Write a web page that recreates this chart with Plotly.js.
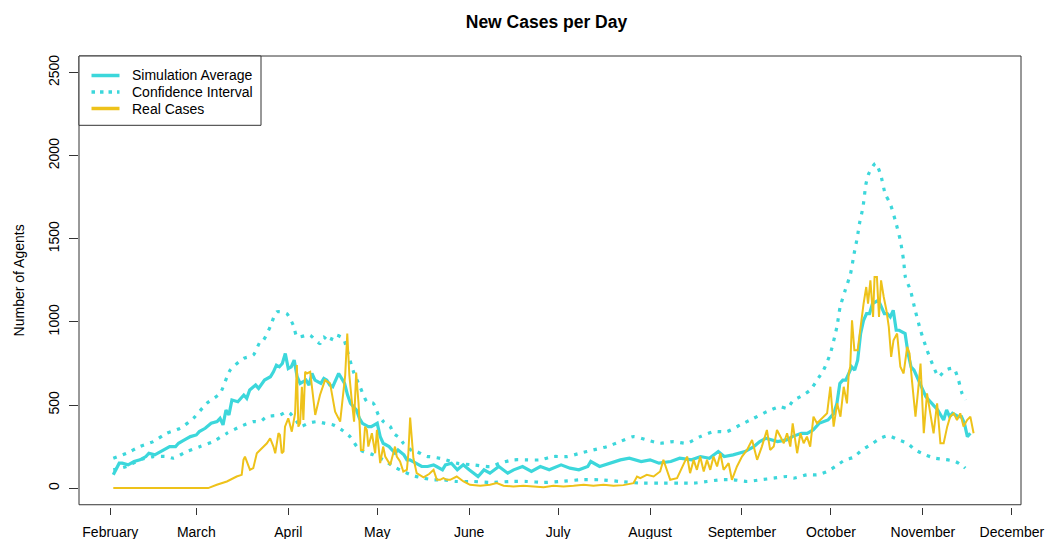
<!DOCTYPE html>
<html>
<head>
<meta charset="utf-8">
<script src="https://cdn.plot.ly/plotly-3.0.1.min.js"></script>
<style>html,body{margin:0;padding:0;background:#fff;}#chart{width:1047px;height:539px;}</style>
</head>
<body>
<div id="chart"></div>
<script>
// Day offsets are counted from 1 February 2020.
const startDate = '2020-02-01';

// Simulation average: [day, cases]
const simAverage = [[1,80],[3,150],[4,150],[6,140],[8,160],[10,170],[12,190],[13,210],[15,200],[17,220],[19,240],[20,250],[22,250],[23,270],[25,290],[27,310],[29,320],[30,340],[32,360],[34,390],[36,400],[37,420],[38,380],[39,470],[40,440],[41,530],[43,520],[45,560],[46,540],[47,590],[49,620],[50,600],[52,650],[54,670],[55,700],[56,740],[57,730],[58,750],[59,810],[60,720],[61,730],[62,770],[63,670],[64,630],[66,650],[67,620],[68,690],[69,650],[71,630],[72,660],[73,650],[74,620],[75,610],[77,690],[79,630],[80,560],[81,510],[83,470],[84,420],[85,390],[87,370],[88,370],[90,390],[91,310],[92,270],[94,250],[96,210],[97,230],[99,200],[100,170],[101,170],[103,150],[105,130],[107,130],[109,140],[110,130],[112,110],[113,140],[115,150],[117,110],[119,140],[121,110],[124,70],[126,110],[128,90],[131,130],[134,90],[136,110],[139,130],[142,100],[145,130],[148,110],[152,140],[155,120],[158,110],[161,130],[162,160],[165,130],[169,150],[172,170],[175,180],[179,160],[182,170],[185,150],[189,160],[192,180],[196,170],[199,190],[202,180],[205,220],[207,190],[210,200],[214,220],[217,250],[219,280],[221,300],[225,280],[228,290],[230,310],[233,330],[235,330],[237,350],[239,390],[242,410],[244,450],[245,510],[246,630],[247,650],[248,650],[250,730],[251,710],[252,770],[253,930],[254,1010],[255,1050],[256,1050],[257,1110],[259,1130],[260,1090],[261,1050],[262,1050],[263,1030],[264,1070],[265,950],[266,950],[268,930],[269,810],[270,730],[271,710],[273,630],[274,590],[275,550],[277,510],[278,490],[279,470],[281,410],[282,470],[283,430],[284,450],[286,430],[287,430],[288,390],[289,310],[290,330]];

// Confidence interval, upper bound: [day, cases]
const ciUpper = [[1,180],[5.5,210],[10,250],[14.5,280],[19,330],[23.5,360],[28,420],[32.5,510],[37,570],[40.4,710],[44.9,780],[48.2,800],[50.5,880],[51.6,890],[53.9,970],[56.1,1060],[59.5,1050],[61.7,980],[63,910],[66.3,920],[67.4,920],[70.7,870],[71.8,910],[74.1,880],[75.2,920],[76.4,920],[78.6,900],[79.7,840],[82,700],[84.2,610],[86.5,520],[88.7,510],[90.4,440],[92.1,400],[94.4,370],[95.5,330],[97.7,300],[98.8,270],[102.2,220],[103.3,220],[106.7,190],[107.8,190],[112.3,175],[116.8,150],[122.4,140],[128.1,130],[131.4,150],[135.9,170],[140.5,170],[144.9,170],[149.4,190],[154,190],[158.4,210],[162.9,230],[167.5,250],[171.9,280],[176.4,310],[180.9,290],[185.4,270],[189.9,280],[194.4,270],[198.9,310],[203.4,340],[207.9,340],[212.4,380],[216.9,420],[221.4,460],[225.9,490],[228.2,480],[230.4,530],[232.7,550],[236,590],[238.3,650],[240.5,710],[242.8,810],[245,970],[246.1,1090],[247.8,1190],[249.6,1290],[250.8,1410],[251.9,1510],[252.6,1590],[253.8,1690],[254.8,1830],[255.7,1890],[258,1955],[259.7,1890],[261.3,1770],[263,1710],[264.7,1610],[266.4,1490],[267.5,1370],[268.1,1270],[269.8,1190],[271.4,1070],[273.2,950],[275.4,830],[277.6,730],[279.3,670],[281.6,710],[284.4,720],[286,650],[287.2,570],[288.4,530]];

// Confidence interval, lower bound: [day, cases]
const ciLower = [[1,110],[5.5,130],[10,170],[14.5,190],[19,190],[21.2,180],[25.8,220],[30.3,250],[34.7,280],[39.3,330],[43.8,370],[48.2,400],[50.5,400],[52.8,430],[57.2,440],[59.5,460],[60.6,450],[62.9,400],[64,370],[66.8,390],[69.6,400],[72.4,390],[75.2,380],[78.1,350],[80.8,310],[83.1,250],[84.2,230],[85.3,220],[88.7,200],[92.1,170],[95.5,130],[98.8,100],[102.2,75],[105.6,60],[109,50],[112.3,50],[116.8,40],[122.4,40],[128.1,34],[134.8,40],[140.5,40],[146.1,34],[151.7,40],[158.4,50],[165.2,50],[171.9,40],[178.7,30],[185.4,30],[192.2,30],[196.7,30],[201.2,40],[205.7,50],[210.2,50],[214.7,40],[219.2,50],[223.7,60],[228.2,70],[230.4,60],[234.9,80],[238.3,80],[241.7,100],[244.5,130],[247.8,170],[250.6,185],[253.5,230],[256.3,260],[259.7,300],[262.4,315],[265.8,290],[268.7,270],[271.4,230],[274.8,200],[278.2,180],[281.6,172],[285,160],[287.7,130],[288.3,120]];

// Real reported cases: [day, cases]
const realCases = [[1,0],[10,0],[20,0],[28,0],[30.3,2],[33,0],[35.9,20],[39.3,40],[42.6,70],[44.3,80],[44.9,170],[45.4,190],[47.1,110],[48.2,120],[49.4,210],[50.5,230],[51.6,250],[52.8,270],[53.9,300],[55,250],[55.6,210],[56.7,330],[57.2,320],[57.8,210],[58.4,220],[58.9,370],[60,420],[61.2,340],[62.3,450],[62.9,740],[63.4,370],[64,390],[64.6,610],[65.1,410],[65.7,700],[66.3,690],[67.4,700],[69.1,440],[70.7,560],[72.4,650],[74.1,630],[75.8,460],[77.5,400],[79.2,680],[79.9,930],[80.6,680],[81.4,530],[82.2,400],[82.9,695],[83.7,510],[84.5,230],[85.3,230],[85.9,370],[86.5,350],[87,250],[87.6,290],[88.2,330],[89.3,210],[89.9,350],[91,150],[92,250],[92.7,190],[94.4,140],[96,250],[96.6,190],[97.7,160],[98.8,100],[100,110],[100.5,210],[101.1,425],[102.2,180],[103.3,90],[105.6,65],[107.5,85],[109,110],[110.1,50],[111.2,50],[112.3,60],[113.5,50],[114.6,50],[116.8,70],[119.1,40],[121.3,20],[124.7,14],[128,20],[130.3,30],[132.6,14],[135.9,10],[139.3,14],[142.7,10],[146.1,6],[149.4,14],[152.8,10],[156.2,14],[159.6,20],[162.9,14],[166.3,20],[169.7,14],[173,18],[176.4,30],[177.6,70],[178.7,60],[180.9,80],[183.2,70],[185.4,100],[186.5,170],[187.7,110],[188.8,50],[191.1,60],[193.4,150],[194.5,190],[195.5,90],[196.7,170],[197.8,110],[198.9,190],[200.1,100],[201.2,170],[202.3,110],[203.4,190],[204.6,130],[205.7,210],[206.8,110],[208.5,150],[209.6,50],[211.3,130],[213,190],[214.7,230],[216.4,290],[218.1,170],[219.7,250],[221.4,350],[222.5,230],[223.7,250],[224.8,350],[226,310],[227.1,270],[228.2,330],[229.3,250],[230.1,390],[231.6,210],[232.7,330],[233.8,270],[234.9,310],[236,250],[237.1,430],[238.3,390],[239.4,410],[240.5,430],[241.7,450],[242.8,610],[243.9,370],[245.1,510],[246.2,430],[247.3,610],[248.4,510],[249,690],[249.5,730],[250.1,1010],[250.9,830],[252,830],[252.9,970],[254,1110],[254.9,1210],[255.5,1110],[256.3,1250],[257.2,1030],[257.7,1270],[258.5,1270],[259.2,1030],[259.9,1250],[260.8,1150],[261.7,1070],[262.5,970],[263.3,790],[264.1,890],[265.3,930],[266.4,730],[267.5,690],[268.7,850],[269.5,810],[270.3,650],[271.5,430],[272.4,590],[273.2,750],[274.3,330],[275.4,570],[276.5,450],[277.6,330],[278.8,510],[279.9,270],[281,270],[282.2,370],[283.2,430],[284.4,450],[285.5,410],[286.6,450],[287.7,370],[288.9,410],[290,430],[291.1,330]];

const yTicks = [0, 500, 1000, 1500, 2000, 2500];
const monthTicks = ['2020-02-01','2020-03-01','2020-04-01','2020-05-01','2020-06-01','2020-07-01','2020-08-01','2020-09-01','2020-10-01','2020-11-01','2020-12-01'];
const monthLabels = ['February','March','April','May','June','July','August','September','October','November','December'];
const legendLabels = ['Simulation Average', 'Confidence Interval', 'Real Cases'];

const base = Date.parse(startDate + 'T00:00:00Z');
const toX = arr => arr.map(p => base + p[0] * 86400000);
const toY = arr => arr.map(p => p[1]);

const cyan = '#3CD7DB';
const gold = '#EEC21A';
const dotDash = '3.5px,6.5px';
const font = 'Liberation Sans, Arial, sans-serif';

const traces = [
  {x: toX(simAverage), y: toY(simAverage), type: 'scatter', mode: 'lines', name: legendLabels[0],
   line: {color: cyan, width: 3.2}},
  {x: toX(ciUpper), y: toY(ciUpper), type: 'scatter', mode: 'lines', name: legendLabels[1],
   line: {color: cyan, width: 3.2, dash: dotDash, shape: 'spline', smoothing: 0.6}},
  {x: toX(ciLower), y: toY(ciLower), type: 'scatter', mode: 'lines', name: legendLabels[1],
   line: {color: cyan, width: 3.2, dash: dotDash, shape: 'spline', smoothing: 0.6}},
  {x: toX(realCases), y: toY(realCases), type: 'scatter', mode: 'lines', name: legendLabels[2],
   line: {color: gold, width: 2}}
];

// Legend box drawn R-style (compact rows), in plot-area (paper) fractions.
const plotL = 79, plotR = 1021, plotT = 56, plotB = 507;
const px = v => (v - plotL) / (plotR - plotL);
const py = v => (plotB - v) / (plotB - plotT);
const rowY = [75.5, 92, 108.5];
const legendStyles = [
  {color: cyan, width: 3.5, dash: 'solid'},
  {color: cyan, width: 3.5, dash: '3.5px,5px'},
  {color: gold, width: 3.5, dash: 'solid'}
];

const shapes = [
  {type: 'rect', xref: 'paper', yref: 'y domain', x0: 0, x1: 1, y0: 0, y1: 1,
   line: {color: '#333', width: 1}, fillcolor: 'rgba(0,0,0,0)'},
  {type: 'rect', xref: 'paper', yref: 'paper', x0: px(79), x1: px(261), y0: py(125.3), y1: py(56),
   line: {color: '#333', width: 1}, fillcolor: '#fff', layer: 'above'}
];
const annotations = [];
legendLabels.forEach((lab, i) => {
  shapes.push({type: 'line', xref: 'paper', yref: 'paper', x0: px(91.5), x1: px(119.5), y0: py(rowY[i]), y1: py(rowY[i]),
               line: legendStyles[i], layer: 'above'});
  annotations.push({xref: 'paper', yref: 'paper', x: px(129.5), y: py(rowY[i]), xanchor: 'left', yanchor: 'middle',
                    text: lab, showarrow: false, font: {family: font, size: 14, color: '#000'}});
});

const layout = {
  width: 1047, height: 539,
  margin: {l: 79, r: 26, t: 56, b: 32, pad: 0},
  paper_bgcolor: '#fff', plot_bgcolor: '#fff',
  font: {family: font, size: 14, color: '#000'},
  showlegend: false,
  title: {text: '<b>New Cases per Day</b>', font: {family: font, size: 17.5, color: '#000'},
          xref: 'container', x: 546.5 / 1047, xanchor: 'center', yref: 'container', y: 0.96, yanchor: 'middle'},
  xaxis: {type: 'date', range: ['2020-01-21 10:30', '2020-12-04 02:00'], anchor: 'free', position: 0,
          tickmode: 'array', tickvals: monthTicks, ticktext: monthLabels,
          ticks: 'outside', ticklen: 7, tickwidth: 1, tickcolor: '#333', ticklabelstandoff: 5,
          showgrid: false, zeroline: false, showline: false, tickfont: {size: 14, color: '#000'}},
  yaxis: {range: [-100, 2600], domain: [0.005, 1], tickmode: 'array', tickvals: yTicks,
          ticktext: yTicks.map(String), tickangle: -90,
          ticks: 'outside', ticklen: 9, tickwidth: 1, tickcolor: '#333', ticklabelstandoff: 4,
          showgrid: false, zeroline: false, showline: false, tickfont: {size: 14, color: '#000'},
          title: {text: 'Number of Agents', font: {size: 14, color: '#000'}, standoff: 18}},
  shapes: shapes,
  annotations: annotations
};

Plotly.newPlot('chart', traces, layout, {staticPlot: true, displayModeBar: false});
</script>
</body>
</html>
